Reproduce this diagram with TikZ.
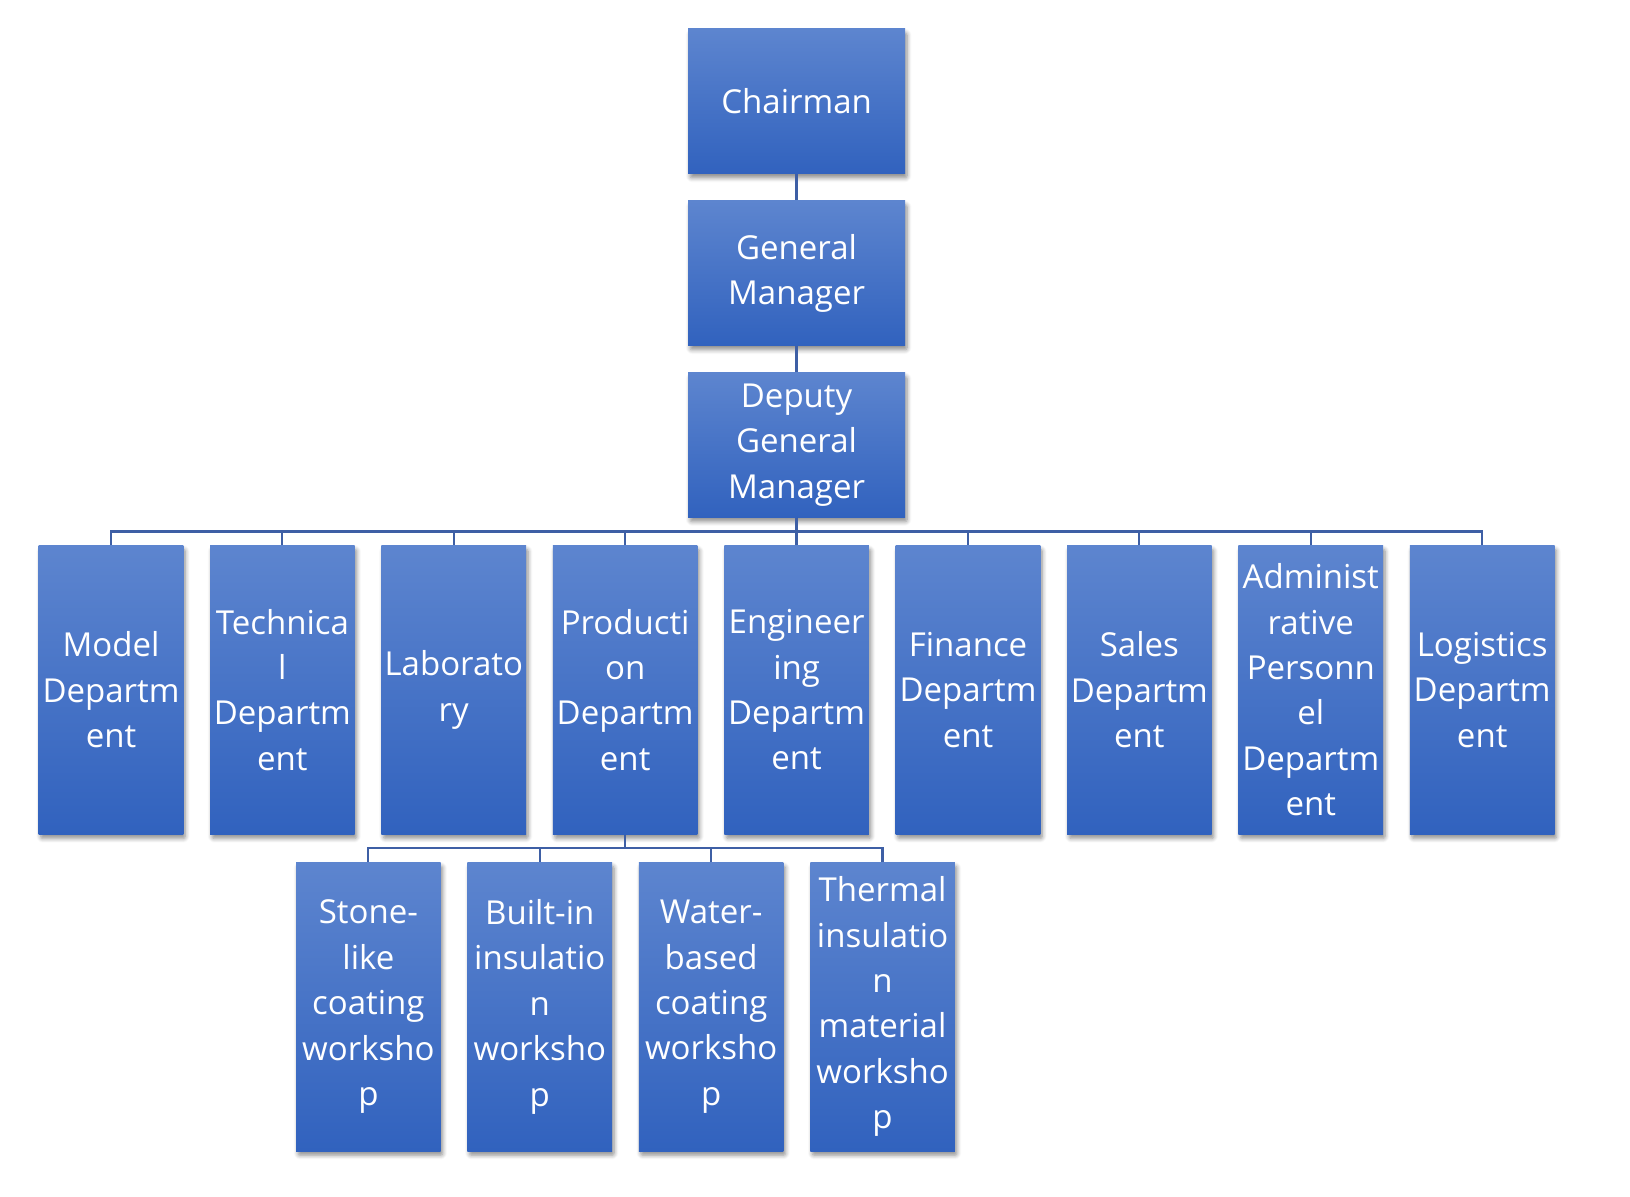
\documentclass[tikz,border=0pt]{standalone}
\usepackage{fontspec}
\setmainfont{Open Sans}
\usetikzlibrary{positioning,shadows.blur}
\definecolor{boxtop}{RGB}{93,133,207}
\definecolor{boxbot}{RGB}{49,98,190}
\definecolor{linkcol}{RGB}{62,95,165}

\begin{document}
\begin{tikzpicture}[node distance={13pt},
	main/.style = {rectangle, top color=boxtop, bottom color=boxbot, text=white, align=center, inner sep=0pt,
		font=\fontsize{16.5}{22.7}\selectfont,
		blur shadow={shadow blur steps=6, shadow blur extra rounding=1pt, shadow xshift=1pt, shadow yshift=-2pt, shadow opacity=45}},
	head/.style = {main, minimum width=108.5pt, minimum height=72.5pt},
	dept/.style = {main, minimum width=72.3pt, minimum height=144.5pt},
	link/.style = {draw=linkcol, line width=1.1pt}]
	\useasboundingbox (-398.3pt,50.75pt) rectangle (416.7pt,-547.75pt);
	\node[head] (chair) {Chairman};
	\node[head] [below=of chair] (gm) {General\\Manager};
	\node[head] [below=of gm] (dgm) {Deputy\\General\\Manager};
	\node[dept] [below=13.5pt of dgm] (eng) {Engineer\\ing\\Departm\\ent};
	\node[dept] [left=of eng] (prod) {Producti\\on\\Departm\\ent};
	\node[dept] [left=of prod] (lab) {Laborato\\ry};
	\node[dept] [left=of lab] (tech) {Technica\\l\\Departm\\ent};
	\node[dept] [left=of tech] (model) {Model\\Departm\\ent};
	\node[dept] [right=of eng] (fin) {Finance\\Departm\\ent};
	\node[dept] [right=of fin] (sales) {Sales\\Departm\\ent};
	\node[dept] [right=of sales] (admin) {Administ\\rative\\Personn\\el\\Departm\\ent};
	\node[dept] [right=of admin] (logis) {Logistics\\Departm\\ent};
	\node[dept] [below=13.5pt of tech, xshift=43pt] (stone) {Stone-\\like\\coating\\worksho\\p};
	\node[dept] [right=of stone] (built) {Built-in\\insulatio\\n\\worksho\\p};
	\node[dept] [right=of built] (water) {Water-\\based\\coating\\worksho\\p};
	\node[dept] [right=of water] (therm) {Thermal\\insulatio\\n\\material\\worksho\\p};
	\draw[link] (chair) -- (gm);
	\draw[link] (gm) -- (dgm);
	\draw[link] (dgm.south) -- ++(0,-6.75pt) -| (model.north);
	\draw[link] (dgm.south) -- ++(0,-6.75pt) -| (tech.north);
	\draw[link] (dgm.south) -- ++(0,-6.75pt) -| (lab.north);
	\draw[link] (dgm.south) -- ++(0,-6.75pt) -| (prod.north);
	\draw[link] (dgm.south) -- (eng.north);
	\draw[link] (dgm.south) -- ++(0,-6.75pt) -| (fin.north);
	\draw[link] (dgm.south) -- ++(0,-6.75pt) -| (sales.north);
	\draw[link] (dgm.south) -- ++(0,-6.75pt) -| (admin.north);
	\draw[link] (dgm.south) -- ++(0,-6.75pt) -| (logis.north);
	\draw[link] (prod.south) -- ++(0,-6.75pt) -| (stone.north);
	\draw[link] (prod.south) -- ++(0,-6.75pt) -| (built.north);
	\draw[link] (prod.south) -- ++(0,-6.75pt) -| (water.north);
	\draw[link] (prod.south) -- ++(0,-6.75pt) -| (therm.north);
\end{tikzpicture}
\end{document}
